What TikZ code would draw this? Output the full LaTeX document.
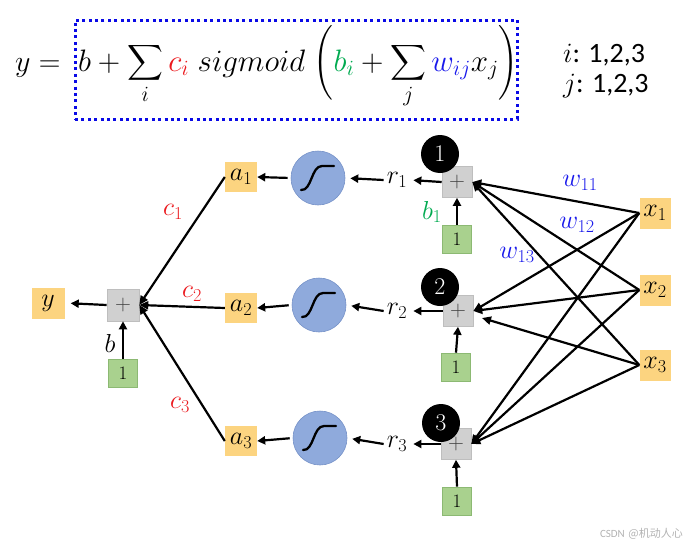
\RequirePackage{fix-cm}
\documentclass[tikz,border=0pt]{standalone}
\usepackage{exscale}
\usepackage{fontspec}
\newfontfamily\carl{Carlito}
\newfontfamily\cjk{Noto Sans CJK SC}
\usetikzlibrary{arrows.meta}
\definecolor{orng}{RGB}{252,212,128}
\definecolor{grybox}{RGB}{208,208,208}
\definecolor{grybd}{RGB}{190,190,190}
\definecolor{grnbox}{RGB}{169,209,142}
\definecolor{grnbd}{RGB}{140,185,115}
\definecolor{sigfill}{RGB}{143,170,220}
\definecolor{sigbd}{RGB}{118,146,200}
\definecolor{myred}{RGB}{235,25,30}
\definecolor{myblue}{RGB}{25,25,235}
\definecolor{mygreen}{RGB}{0,170,80}
\definecolor{dotblue}{RGB}{10,10,230}
\begin{document}
\begin{tikzpicture}[x=1pt,y=-1pt,
  lbl/.style={inner sep=0pt,font=\fontsize{26}{26}\selectfont},
  orangebox/.style={lbl,fill=orng,minimum width=32pt,minimum height=30pt},
  plusbox/.style={fill=grybox,draw=grybd,line width=0.6pt,minimum width=30pt,minimum height=31pt,inner sep=0pt,
     font=\fontsize{22}{22}\selectfont,text=black!75},
  onebox/.style={fill=grnbox,draw=grnbd,line width=0.6pt,minimum width=29pt,minimum height=28pt,inner sep=0pt,
     font=\fontsize{19}{19}\selectfont},
  sigcirc/.style={circle,fill=sigfill,draw=sigbd,line width=0.6pt,minimum size=54pt,inner sep=0pt},
  numcirc/.style={circle,fill=black,minimum size=38pt,inner sep=0pt,text=white,font=\fontsize{24}{24}\selectfont},
  arr/.style={line width=2.2pt,-{Triangle[length=8pt,width=8pt]}},
  wire/.style={line width=2.2pt,-{Triangle[length=9pt,width=8pt]}},
  sigcurve/.style={line width=2.3pt,line cap=round}
]
\useasboundingbox (0,0) rectangle (693,546);

% formula
\node[draw=dotblue,line width=3pt,dash pattern=on 3pt off 3.4pt,minimum width=442pt,minimum height=99pt,inner sep=0pt]
  (fbox) at (296,69.5) {};
\node[anchor=base west,inner sep=0pt,font=\fontsize{30}{35}\selectfont] (ylhs) at (15,71) {$y=$};
\node[anchor=base west,inner sep=0pt,font=\fontsize{31}{36}\selectfont] (formula) at (78,71)
  {$\displaystyle b+\sum_i {\color{myred}c_i}\;sigmoid\;\biggl({\color{mygreen}b_i}+\sum_j {\color{myblue}w_{ij}}x_j\biggr)$};
\node[anchor=base west,inner sep=0pt,font=\fontsize{28}{28}\selectfont] (irange) at (563,62) {$i${\carl: 1,2,3}};
\node[anchor=base west,inner sep=0pt,font=\fontsize{28}{28}\selectfont] (jrange) at (563,92) {$j${\carl: 1,2,3}};

% left part
\node[orangebox,minimum width=33pt,minimum height=31pt] (y) at (48,303) {$y$};
\node[plusbox,minimum width=32pt,minimum height=32pt] (plusL) at (123,305) {$+$};
\node[onebox] (oneL) at (123,373) {1};
\node[lbl] (blbl) at (110,343) {$b$};

\node[orangebox] (a1) at (241,177) {$a_1$};
\node[orangebox] (a2) at (241,308) {$a_2$};
\node[orangebox] (a3) at (241,441) {$a_3$};

\node[sigcirc] (s1) at (318,178) {};
\node[sigcirc] (s2) at (319,305) {};
\node[sigcirc] (s3) at (320,438) {};
\foreach \s in {s1,s2,s3}{
  \draw[sigcurve] ([shift={(-17,12)}]\s.center) .. controls ([shift={(-6,13)}]\s.center) and ([shift={(-7,-12)}]\s.center) .. ([shift={(4,-12)}]\s.center) -- ([shift={(16,-12)}]\s.center);
}

\node[lbl,inner sep=3pt] (r1) at (397,180) {$r_1$};
\node[lbl,inner sep=3pt] (r2) at (397,311) {$r_2$};
\node[lbl,inner sep=3pt] (r3) at (397,444) {$r_3$};

\node[plusbox] (p1) at (457,182) {$+$};
\node[plusbox] (p2) at (458,311) {$+$};
\node[plusbox] (p3) at (456,444) {$+$};

\node[numcirc] (n1) at (440,154) {1};
\node[numcirc] (n2) at (440,287) {2};
\node[numcirc] (n3) at (441,423) {3};

\node[onebox] (o1) at (457,239) {1};
\node[onebox] (o2) at (456,367) {1};
\node[onebox] (o3) at (457,501) {1};

\node[orangebox,minimum width=31pt,minimum height=31pt] (x1) at (655,213) {$x_1$};
\node[orangebox,minimum width=31pt,minimum height=31pt] (x2) at (655,290) {$x_2$};
\node[orangebox,minimum width=31pt,minimum height=31pt] (x3) at (655,365) {$x_3$};

% labels
\node[lbl,text=myred] (c1) at (173,212) {$c_1$};
\node[lbl,text=myred] (c2) at (192,294) {$c_2$};
\node[lbl,text=myred] (c3) at (180,405) {$c_3$};
\node[lbl,text=mygreen] (b1) at (432,212) {$b_1$};
\node[lbl,text=myblue] (w11) at (580,183) {$w_{11}$};
\node[lbl,text=myblue] (w12) at (577,225) {$w_{12}$};
\node[lbl,text=myblue] (w13) at (517,255) {$w_{13}$};

% connectors left
\draw[arr,shorten >=6pt] (plusL.west) -- (y.east);
\draw[arr] (oneL.north) -- (plusL.south);
\draw[wire] (a1.west) -- (plusL.east);
\draw[wire] (a2.west) -- (plusL.east);
\draw[wire] (a3.west) -- (plusL.east);
\foreach \i in {1,2,3}{
  \draw[arr,shorten <=3pt] (s\i.west) -- (a\i.east);
  \draw[arr,shorten >=5pt] (r\i.west) -- (s\i.east);
  \draw[arr,shorten >=3pt] (p\i.west) -- (r\i.east);
  \draw[arr] (o\i.north) -- (p\i.south);
}
% connectors right
\coordinate (p2off) at (482,318);
\draw[wire] (x1.west) -- (p1.east);
\draw[wire] (x2.west) -- (p1.east);
\draw[wire] (x3.west) -- (p1.east);
\draw[wire] (x1.west) -- (p2.east);
\draw[wire] (x2.west) -- (p2.east);
\draw[wire] (x3.west) -- (p2off);
\draw[wire] (x1.west) -- (p3.east);
\draw[wire] (x2.west) -- (p3.east);
\draw[wire] (x3.west) -- (p3.east);

% watermark
\node[anchor=base east,inner sep=0pt,text=black!30,font=\fontsize{11}{11}\selectfont] (wm) at (683,537) {{\carl CSDN} {\cjk @机动人心}};
\end{tikzpicture}
\end{document}
